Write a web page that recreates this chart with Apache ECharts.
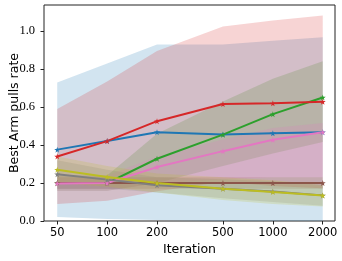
<!DOCTYPE html>
<html><head><meta charset="utf-8">
<script src="https://cdn.jsdelivr.net/npm/echarts@6/dist/echarts.min.js"></script>
<style>html,body{margin:0;padding:0;background:#fff}#c{width:342px;height:261px}</style>
</head><body><div id="c"></div>
<script>
const iterations = [50, 100, 200, 500, 1000, 2000];
const yTicks = [0.0, 0.2, 0.4, 0.6, 0.8, 1.0];

const blueMean = [0.376, 0.421, 0.468, 0.456, 0.462, 0.468];
const blueLo   = [0.021, 0.010, 0.005, 0.0, 0.0, 0.0];
const blueHi   = [0.73, 0.83, 0.93, 0.93, 0.95, 0.968];

const greenMean = [0.200, 0.200, 0.328, 0.455, 0.563, 0.651];
const greenLo   = [0.16, 0.16, 0.20, 0.29, 0.356, 0.416];
const greenHi   = [0.24, 0.24, 0.46, 0.63, 0.75, 0.842];

const redMean = [0.340, 0.421, 0.526, 0.616, 0.620, 0.628];
const redLo   = [0.09, 0.107, 0.157, 0.207, 0.184, 0.173];
const redHi   = [0.59, 0.735, 0.895, 1.025, 1.056, 1.083];

const brownMean = [0.200, 0.200, 0.200, 0.200, 0.200, 0.200];
const brownLo   = [0.17, 0.17, 0.17, 0.17, 0.17, 0.17];
const brownHi   = [0.23, 0.23, 0.23, 0.23, 0.23, 0.23];

const pinkMean = [0.198, 0.200, 0.284, 0.368, 0.428, 0.468];
const pinkLo   = [0.16, 0.16, 0.20, 0.22, 0.23, 0.23];
const pinkHi   = [0.24, 0.24, 0.34, 0.43, 0.49, 0.516];

const grayMean = [0.246, 0.218, 0.188, 0.170, 0.155, 0.135];
const grayLo   = [0.17, 0.17, 0.15, 0.12, 0.10, 0.08];
const grayHi   = [0.32, 0.27, 0.23, 0.22, 0.21, 0.19];

const oliveMean = [0.270, 0.232, 0.200, 0.170, 0.153, 0.134];
const oliveLo   = [0.20, 0.18, 0.15, 0.11, 0.09, 0.077];
const oliveHi   = [0.34, 0.29, 0.25, 0.23, 0.215, 0.19];

const groups = [
  {color:'#1f77b4', mean: blueMean, lo: blueLo, hi: blueHi},
  {color:'#2ca02c', mean: greenMean, lo: greenLo, hi: greenHi},
  {color:'#d62728', mean: redMean, lo: redLo, hi: redHi},
  {color:'#8c564b', mean: brownMean, lo: brownLo, hi: brownHi},
  {color:'#e377c2', mean: pinkMean, lo: pinkLo, hi: pinkHi},
  {color:'#7f7f7f', mean: grayMean, lo: grayLo, hi: grayHi},
  {color:'#bcbd22', mean: oliveMean, lo: oliveLo, hi: oliveHi}
];

const star = 'path://M50,0 L61,35 L98,35 L68,57 L79,91 L50,70 L21,91 L32,57 L2,35 L39,35 Z';

function hexA(hex, a){
  const r=parseInt(hex.slice(1,3),16), g=parseInt(hex.slice(3,5),16), b=parseInt(hex.slice(5,7),16);
  return 'rgba('+r+','+g+','+b+','+a+')';
}

const series = [];
groups.forEach(function(gp){
  series.push({
    type:'custom', z:1, silent:true, clip:true,
    data: iterations.map(function(x,i){return [x, gp.lo[i], gp.hi[i]];}),
    encode:{x:0, y:[1,2]},
    renderItem: function(params, api){
      if (params.dataIndex !== 0) return null;
      const pts = [];
      for (let i=0;i<iterations.length;i++) pts.push(api.coord([iterations[i], gp.hi[i]]));
      for (let i=iterations.length-1;i>=0;i--) pts.push(api.coord([iterations[i], gp.lo[i]]));
      return {type:'polygon', shape:{points:pts}, style:{fill:hexA(gp.color,0.2), stroke:null}};
    }
  });
});
groups.forEach(function(gp){
  series.push({
    type:'line', z:3, silent:true,
    data: iterations.map(function(x,i){return [x, gp.mean[i]];}),
    lineStyle:{color:gp.color, width:2},
    itemStyle:{color:gp.color},
    symbol: star, symbolSize:6, showSymbol:true
  });
});

const chart = echarts.init(document.getElementById('c'), null, {renderer:'canvas'});
chart.setOption({
  animation:false,
  backgroundColor:'#fff',
  grid:{left:44, top:5, right:7, bottom:40, containLabel:false, outerBoundsMode:'none',
        show:true, borderColor:'#222', borderWidth:1, backgroundColor:'transparent'},
  xAxis:{
    type:'log', logBase:10, min:41.6, max:2372,
    name:'Iteration', nameLocation:'middle', nameGap:22, nameMoveOverlap:false,
    nameTextStyle:{fontFamily:'DejaVu Sans', fontSize:12.5, color:'#000'},
    axisLine:{show:false},
    axisTick:{show:true, length:3.5, inside:false, customValues:iterations, lineStyle:{color:'#222'}},
    axisLabel:{customValues:iterations, fontFamily:'DejaVu Sans', fontSize:11.5, color:'#000', margin:6,
      formatter:function(v){return String(Math.round(v));}},
    splitLine:{show:false}, minorTick:{show:false}
  },
  yAxis:{
    type:'value', min:0, max:1.138,
    name:'Best Arm pulls rate', nameLocation:'middle', nameGap:23, nameRotate:90, nameMoveOverlap:false,
    nameTextStyle:{fontFamily:'DejaVu Sans', fontSize:12.5, color:'#000'},
    axisLine:{show:false},
    axisTick:{show:true, length:3.5, customValues:yTicks, lineStyle:{color:'#222'}},
    axisLabel:{customValues:yTicks, fontFamily:'Liberation Serif', fontSize:12.5, color:'#000', margin:9,
      formatter:function(v){return v.toFixed(1);}},
    splitLine:{show:false}
  },
  series: series
});
</script></body></html>
